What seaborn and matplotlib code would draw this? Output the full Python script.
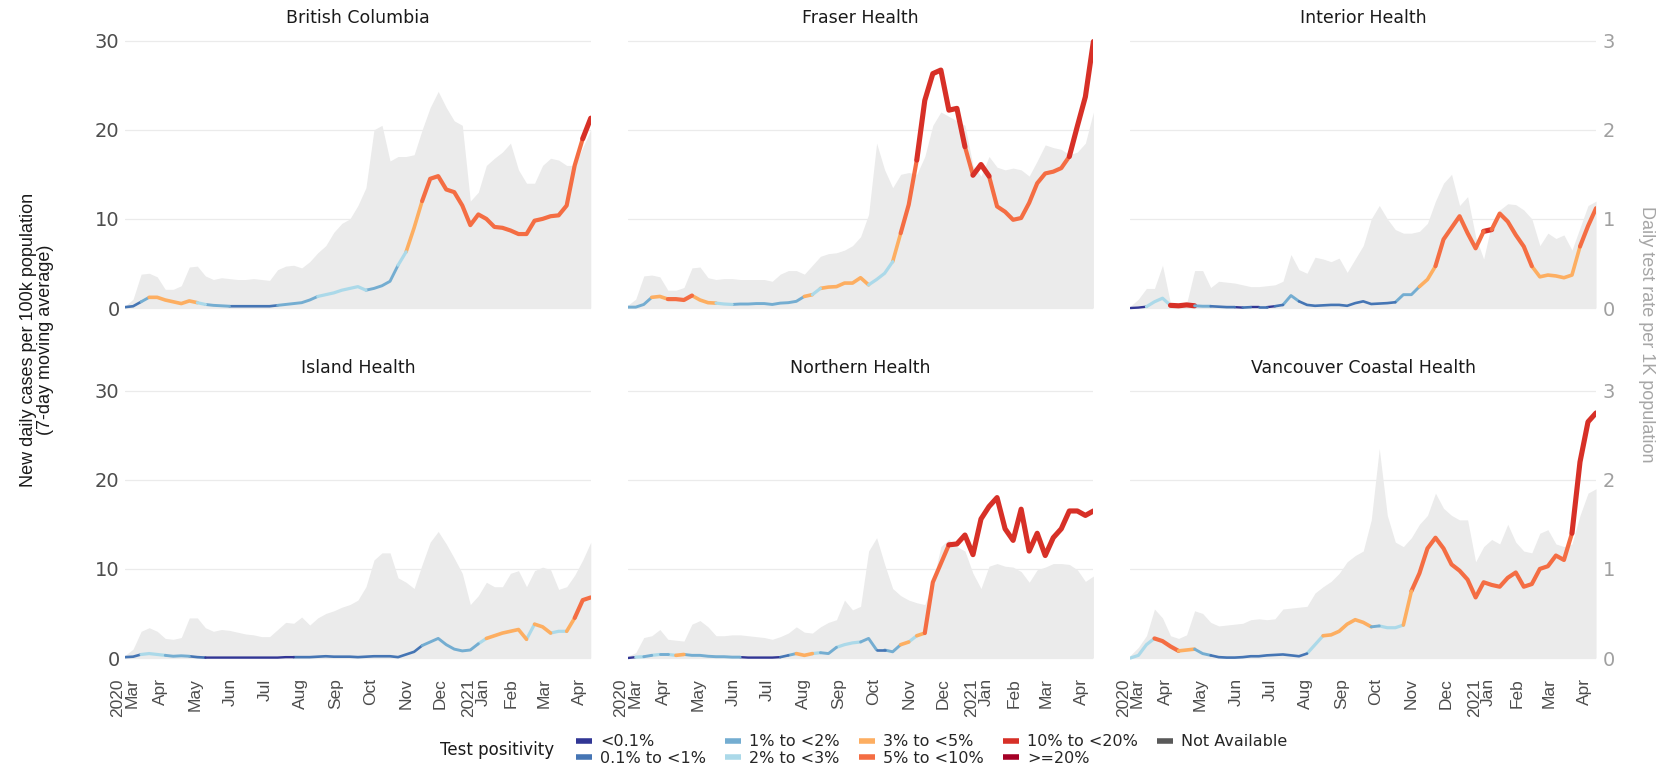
import numpy as np
import pandas as pd
import seaborn as sns
import matplotlib.pyplot as plt
from matplotlib.lines import Line2D

# Regions (facets) and weekly dates
regions = ["British Columbia", "Fraser Health", "Interior Health",
           "Island Health", "Northern Health", "Vancouver Coastal Health"]
dates = pd.date_range("2020-03-01", periods=59, freq="7D")

# Test positivity classes
positivity_levels = ["<0.1%", "0.1% to <1%", "1% to <2%", "2% to <3%", "3% to <5%",
                     "5% to <10%", "10% to <20%", ">=20%", "Not Available"]
level_colors = ["#313695", "#4575b4", "#74add1", "#abd9e9", "#fdae61",
                "#f46d43", "#d73027", "#a50026", "#595959"]
level_widths = [1.7, 1.9, 2.1, 2.3, 2.6, 3.0, 3.7, 4.2, 1.7]

# New daily cases per 100k (7-day moving average), read weekly
cases_bc = [0.1, 0.2, 0.7, 1.2, 1.2, 0.9, 0.7, 0.5, 0.8, 0.6,
            0.4, 0.3, 0.25, 0.2, 0.2, 0.2, 0.2, 0.2, 0.2, 0.3,
            0.4, 0.5, 0.6, 0.9, 1.3, 1.5, 1.7, 2.0, 2.2, 2.4,
            2.0, 2.2, 2.5, 3.0, 4.8, 6.3, 9.0, 12.0, 14.5, 14.8,
            13.3, 13.0, 11.5, 9.3, 10.5, 10.0, 9.1, 9.0, 8.7, 8.3,
            8.3, 9.8, 10.0, 10.3, 10.4, 11.5, 16.0, 19.0, 21.3]
cases_fraser = [0.1, 0.1, 0.4, 1.2, 1.3, 1.0, 1.0, 0.9, 1.4, 0.9,
                0.6, 0.55, 0.45, 0.4, 0.45, 0.45, 0.5, 0.5, 0.4, 0.55,
                0.6, 0.75, 1.3, 1.5, 2.2, 2.35, 2.4, 2.8, 2.8, 3.4,
                2.6, 3.2, 3.9, 5.2, 8.4, 11.6, 16.6, 23.3, 26.3, 26.7,
                22.2, 22.4, 18.1, 14.9, 16.1, 14.8, 11.4, 10.8, 9.9, 10.1,
                11.8, 14.0, 15.1, 15.3, 15.7, 17.0, 20.4, 23.7, 29.9]
cases_interior = [0.0, 0.05, 0.15, 0.7, 1.1, 0.3, 0.25, 0.35, 0.25, 0.2,
                  0.2, 0.15, 0.1, 0.1, 0.05, 0.1, 0.1, 0.1, 0.2, 0.35,
                  1.4, 0.75, 0.35, 0.25, 0.3, 0.35, 0.35, 0.25, 0.55, 0.75,
                  0.45, 0.5, 0.55, 0.65, 1.5, 1.5, 2.4, 3.2, 4.7, 7.7,
                  9.0, 10.3, 8.4, 6.7, 8.6, 8.8, 10.6, 9.7, 8.2, 6.9,
                  4.7, 3.5, 3.7, 3.6, 3.4, 3.7, 6.9, 9.2, 11.2]
cases_island = [0.1, 0.15, 0.4, 0.5, 0.4, 0.3, 0.2, 0.25, 0.2, 0.1,
                0.05, 0.05, 0.05, 0.05, 0.05, 0.05, 0.05, 0.05, 0.05, 0.05,
                0.1, 0.1, 0.1, 0.1, 0.15, 0.2, 0.15, 0.15, 0.15, 0.1,
                0.15, 0.2, 0.2, 0.2, 0.1, 0.4, 0.7, 1.4, 1.8, 2.2,
                1.5, 1.0, 0.8, 0.9, 1.6, 2.2, 2.5, 2.8, 3.0, 3.2,
                2.1, 3.8, 3.5, 2.8, 3.0, 3.0, 4.5, 6.5, 6.8]
cases_northern = [0.0, 0.1, 0.15, 0.3, 0.4, 0.4, 0.3, 0.4, 0.3, 0.3,
                  0.2, 0.15, 0.15, 0.1, 0.1, 0.05, 0.05, 0.05, 0.05, 0.1,
                  0.3, 0.5, 0.3, 0.5, 0.6, 0.5, 1.2, 1.5, 1.7, 1.8,
                  2.2, 0.9, 0.9, 0.7, 1.5, 1.8, 2.5, 2.8, 8.5, 10.6,
                  12.7, 12.8, 13.8, 11.6, 15.6, 17.0, 18.0, 14.5, 13.2, 16.7,
                  12.0, 14.0, 11.5, 13.5, 14.5, 16.5, 16.5, 16.0, 16.5]
cases_vch = [0.0, 0.3, 1.5, 2.2, 1.9, 1.3, 0.8, 0.9, 1.0, 0.5,
             0.3, 0.1, 0.05, 0.05, 0.1, 0.2, 0.2, 0.3, 0.35, 0.4,
             0.3, 0.2, 0.5, 1.5, 2.5, 2.6, 3.0, 3.8, 4.3, 4.0,
             3.5, 3.6, 3.4, 3.4, 3.7, 7.5, 9.5, 12.3, 13.5, 12.3,
             10.5, 9.8, 8.8, 6.8, 8.5, 8.2, 8.0, 9.0, 9.6, 8.0,
             8.3, 10.0, 10.3, 11.5, 11.0, 14.0, 22.0, 26.5, 27.5]

# Test positivity class (index into positivity_levels) for each week
pos_bc = [1, 1, 2, 4, 4, 4, 4, 4, 4, 3,
          2, 2, 2, 1, 1, 1, 1, 1, 1, 2,
          2, 2, 2, 2, 3, 3, 3, 3, 3, 3,
          2, 2, 2, 2, 3, 4, 4, 5, 5, 5,
          5, 5, 5, 5, 5, 5, 5, 5, 5, 5,
          5, 5, 5, 5, 5, 5, 5, 6, 6]
pos_fraser = [2, 2, 2, 4, 4, 5, 5, 5, 4, 4,
              4, 3, 3, 2, 2, 2, 2, 2, 2, 2,
              2, 2, 4, 3, 4, 4, 4, 4, 4, 4,
              3, 3, 3, 4, 5, 5, 6, 6, 6, 6,
              6, 6, 5, 6, 6, 5, 5, 5, 5, 5,
              5, 5, 5, 5, 5, 6, 6, 6, 6]
pos_interior = [0, 0, 3, 3, 3, 6, 6, 6, 2, 2,
                1, 1, 1, 0, 1, 0, 1, 0, 1, 2,
                2, 1, 1, 1, 1, 1, 1, 1, 1, 1,
                1, 1, 1, 2, 2, 2, 4, 4, 5, 5,
                5, 5, 5, 5, 6, 5, 5, 5, 5, 5,
                4, 4, 4, 4, 4, 4, 5, 5, 5]
pos_island = [1, 1, 3, 3, 3, 2, 2, 2, 1, 1,
              0, 0, 0, 0, 0, 0, 0, 0, 0, 0,
              0, 1, 1, 1, 1, 1, 1, 1, 1, 1,
              1, 1, 1, 1, 1, 1, 1, 2, 2, 2,
              2, 2, 2, 2, 3, 4, 4, 4, 4, 4,
              3, 4, 4, 3, 3, 4, 5, 5, 5]
pos_northern = [0, 3, 2, 3, 2, 3, 4, 2, 2, 2,
                2, 2, 2, 2, 0, 0, 0, 0, 0, 1,
                2, 4, 4, 3, 2, 2, 3, 3, 3, 2,
                2, 1, 2, 2, 4, 3, 4, 5, 5, 5,
                6, 6, 6, 6, 6, 6, 6, 6, 6, 6,
                6, 6, 6, 6, 6, 6, 6, 6, 6]
pos_vch = [3, 3, 3, 5, 5, 5, 4, 4, 2, 2,
           1, 1, 1, 1, 1, 1, 1, 1, 1, 1,
           1, 1, 3, 3, 4, 4, 4, 4, 4, 4,
           2, 3, 3, 3, 4, 5, 5, 5, 5, 5,
           5, 5, 5, 5, 5, 5, 5, 5, 5, 5,
           5, 5, 5, 5, 5, 6, 6, 6, 6]

# Daily test rate per 1K population
tests_bc = [0.02, 0.10, 0.38, 0.39, 0.35, 0.21, 0.21, 0.25, 0.46, 0.47,
            0.36, 0.32, 0.34, 0.33, 0.32, 0.32, 0.33, 0.32, 0.31, 0.43,
            0.47, 0.48, 0.45, 0.52, 0.62, 0.70, 0.85, 0.95, 1.00, 1.15,
            1.35, 2.00, 2.05, 1.65, 1.70, 1.70, 1.72, 2.00, 2.25, 2.43,
            2.25, 2.10, 2.05, 1.20, 1.30, 1.60, 1.68, 1.75, 1.85, 1.55,
            1.40, 1.40, 1.60, 1.68, 1.66, 1.60, 1.60, 1.80, 2.00]
tests_fraser = [0.03, 0.10, 0.36, 0.37, 0.35, 0.20, 0.20, 0.23, 0.45, 0.46,
                0.34, 0.32, 0.33, 0.33, 0.32, 0.32, 0.32, 0.32, 0.30, 0.38,
                0.42, 0.42, 0.38, 0.48, 0.58, 0.61, 0.62, 0.65, 0.70, 0.80,
                1.05, 1.85, 1.55, 1.35, 1.50, 1.52, 1.50, 1.70, 2.05, 2.20,
                2.15, 2.10, 2.05, 1.60, 1.48, 1.70, 1.58, 1.55, 1.57, 1.55,
                1.48, 1.65, 1.83, 1.80, 1.78, 1.72, 1.75, 1.85, 2.20]
tests_interior = [0.02, 0.10, 0.22, 0.22, 0.48, 0.05, 0.03, 0.05, 0.42, 0.42,
                  0.23, 0.30, 0.29, 0.28, 0.26, 0.24, 0.24, 0.25, 0.26, 0.30,
                  0.60, 0.43, 0.39, 0.57, 0.55, 0.52, 0.56, 0.40, 0.55, 0.70,
                  1.00, 1.15, 1.00, 0.88, 0.84, 0.84, 0.86, 0.95, 1.20, 1.40,
                  1.50, 1.15, 1.25, 0.80, 0.55, 0.95, 1.10, 1.17, 1.16, 1.10,
                  1.00, 0.70, 0.84, 0.78, 0.82, 0.65, 0.90, 1.15, 1.20]
tests_island = [0.03, 0.10, 0.30, 0.34, 0.30, 0.22, 0.21, 0.23, 0.45, 0.45,
                0.34, 0.30, 0.32, 0.31, 0.29, 0.27, 0.26, 0.24, 0.24, 0.32,
                0.40, 0.39, 0.46, 0.37, 0.45, 0.50, 0.53, 0.57, 0.60, 0.65,
                0.80, 1.10, 1.18, 1.18, 0.90, 0.85, 0.78, 1.05, 1.30, 1.42,
                1.28, 1.12, 0.95, 0.60, 0.70, 0.85, 0.80, 0.80, 0.95, 0.98,
                0.80, 0.98, 1.02, 0.99, 0.77, 0.80, 0.93, 1.10, 1.30]
tests_northern = [0.02, 0.06, 0.23, 0.25, 0.32, 0.21, 0.20, 0.19, 0.38, 0.42,
                  0.35, 0.25, 0.25, 0.26, 0.26, 0.25, 0.24, 0.23, 0.21, 0.24,
                  0.28, 0.35, 0.29, 0.28, 0.35, 0.40, 0.43, 0.65, 0.54, 0.58,
                  1.20, 1.35, 1.05, 0.78, 0.70, 0.65, 0.62, 0.60, 0.85, 1.25,
                  1.33, 1.25, 1.20, 0.95, 0.78, 1.03, 1.06, 1.03, 1.02, 0.97,
                  0.85, 0.99, 1.02, 1.06, 1.06, 1.05, 0.99, 0.86, 0.92]
tests_vch = [0.03, 0.12, 0.25, 0.55, 0.45, 0.25, 0.22, 0.26, 0.53, 0.50,
             0.40, 0.36, 0.37, 0.38, 0.39, 0.43, 0.44, 0.43, 0.44, 0.55,
             0.56, 0.57, 0.58, 0.73, 0.80, 0.86, 0.95, 1.08, 1.15, 1.20,
             1.55, 2.35, 1.60, 1.30, 1.25, 1.35, 1.50, 1.60, 1.85, 1.68,
             1.60, 1.55, 1.55, 1.08, 1.25, 1.33, 1.28, 1.50, 1.30, 1.20,
             1.18, 1.40, 1.44, 1.28, 1.25, 1.28, 1.60, 1.85, 1.90]

cases_all = [cases_bc, cases_fraser, cases_interior, cases_island, cases_northern, cases_vch]
pos_all = [pos_bc, pos_fraser, pos_interior, pos_island, pos_northern, pos_vch]
tests_all = [tests_bc, tests_fraser, tests_interior, tests_island, tests_northern, tests_vch]

# Long table: one "run" per stretch of equal positivity class
rows = []
for region, cases, pos in zip(regions, cases_all, pos_all):
    run = 0
    for i in range(len(dates)):
        if i > 0 and pos[i] != pos[i - 1]:
            rows.append((region, run, dates[i], cases[i], positivity_levels[pos[i - 1]]))
            run += 1
        rows.append((region, run, dates[i], cases[i], positivity_levels[pos[i]]))
df = pd.DataFrame(rows, columns=["region", "run", "date", "cases", "positivity"])

palette = dict(zip(positivity_levels, level_colors))
sizes = dict(zip(positivity_levels, level_widths))

sns.set_theme(style="white")
plt.rcParams["font.family"] = ["DejaVu Sans"]

fig, axes = plt.subplots(2, 3, figsize=(16.61, 7.66), dpi=100, sharex=True, sharey=True)
fig.subplots_adjust(left=0.0753, right=0.9609, top=0.9644, bottom=0.1235,
                    wspace=0.0794, hspace=0.19)

month_ticks = pd.date_range("2020-03-01", "2021-04-01", freq="MS")
month_labels = [f"{d.year}\n{d:%b}" if (i == 0 or d.month == 1) else f"{d:%b}"
                for i, d in enumerate(month_ticks)]

for k, (ax, region, tests) in enumerate(zip(axes.flat, regions, tests_all)):
    ax.fill_between(dates, np.array(tests) * 10, color="#ebebeb", lw=0, zorder=1)
    sns.lineplot(data=df[df["region"] == region], x="date", y="cases",
                 hue="positivity", size="positivity", units="run", estimator=None,
                 sort=False, palette=palette, sizes=sizes, legend=False, ax=ax,
                 solid_capstyle="round", zorder=3)
    ax.set_title(region, fontsize=12.5, color="#1a1a1a", pad=3)
    ax.set_xlim(dates[0], pd.Timestamp("2021-04-11"))
    ax.set_ylim(-1.5, 31.5)
    ax.set_yticks([0, 10, 20, 30])
    ax.set_xticks(month_ticks)
    ax.set_xlabel("")
    ax.set_ylabel("")
    ax.yaxis.grid(True, color="#ebebeb", lw=0.9, zorder=0)
    ax.xaxis.grid(False)
    ax.set_axisbelow(True)
    for sp in ax.spines.values():
        sp.set_visible(False)
    ax.tick_params(axis="y", length=0, labelsize=14, labelcolor="#4d4d4d", pad=4)
    if k < 3:
        ax.tick_params(axis="x", length=0)
    else:
        ax.tick_params(axis="x", length=3, width=1.3, color="#333333", pad=2)
        ax.set_xticklabels(month_labels, rotation=90, ha="center", va="top",
                           multialignment="right", fontsize=12.5,
                           family="Liberation Sans", color="#4d4d4d",
                           linespacing=0.95)
    if k % 3 == 2:
        sec = ax.secondary_yaxis("right", functions=(lambda v: v / 10, lambda v: v * 10))
        sec.set_yticks([0, 1, 2, 3])
        sec.tick_params(length=0, labelsize=14, labelcolor="#a0a0a0", pad=5)
        for sp in sec.spines.values():
            sp.set_visible(False)

fig.text(0.0225, 0.556, "New daily cases per 100k population\n(7-day moving average)",
         rotation=90, ha="center", va="center", fontsize=13,
         family="Liberation Sans", color="#1a1a1a", linespacing=1.0)
fig.text(0.991, 0.563, "Daily test rate per 1K population", rotation=-90,
         ha="center", va="center", fontsize=13, family="Liberation Sans",
         color="#a6a6a6")

handles = [Line2D([], [], color=c, lw=4, solid_capstyle="butt") for c in level_colors]
fig.legend(handles, positivity_levels, loc="center", bbox_to_anchor=(0.561, 0.021),
           ncol=5, frameon=False, fontsize=11.5, handlelength=1.0, handletextpad=0.5,
           columnspacing=1.2, labelspacing=0.1, borderpad=0.1)
fig.text(440 / 1661, 0.021, "Test positivity", ha="left", va="center",
         fontsize=12, color="#1a1a1a")

fig.savefig("out.png", dpi=100)
